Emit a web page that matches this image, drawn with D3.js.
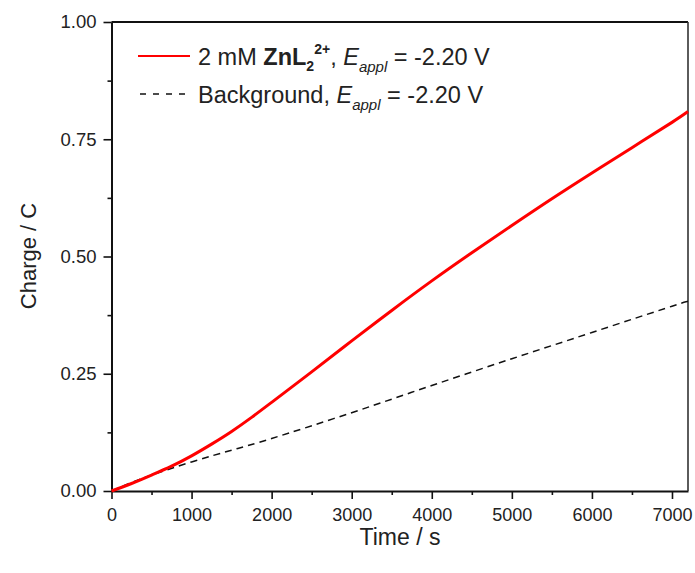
<!DOCTYPE html>
<meta charset="utf-8">
<style>
body { margin: 0; background: #fff; }
text { font-family: "Liberation Sans", Arial, sans-serif; fill: #222; }
.axis path, .axis line { stroke: #111; }
</style>
<svg width="695" height="573"></svg>
<script src="https://cdn.jsdelivr.net/npm/d3@7"></script>
<script>

// time (s) and charge (C)
var timeZn = [0, 250, 500, 750, 1000, 1250, 1500, 1750, 2000, 2500, 3000, 3500, 4000, 4500, 5000, 5500, 6000, 6500, 7000, 7200];
var chargeZn = [0, 0.016, 0.034, 0.053, 0.075, 0.100, 0.127, 0.157, 0.189, 0.254, 0.320, 0.385, 0.448, 0.508, 0.566, 0.623, 0.678, 0.732, 0.786, 0.809];

var timeBg = [0, 250, 500, 1000, 1500, 2000, 3000, 4000, 5000, 6000, 7000, 7200];
var chargeBg = [0, 0.018, 0.034, 0.062, 0.087, 0.112, 0.167, 0.225, 0.282, 0.338, 0.394, 0.404];

var xTicks = [0, 1000, 2000, 3000, 4000, 5000, 6000, 7000];
var yTicks = [0, 0.25, 0.5, 0.75, 1.0];

var svg = d3.select("svg"),
    mLeft = 111.5, mRight = 688, mTop = 22, mBottom = 491;

var x = d3.scaleLinear().domain([0, 7200]).range([mLeft, mRight]);
var y = d3.scaleLinear().domain([0, 1]).range([mBottom, mTop]);

// minor ticks
svg.append("g").attr("class", "axis")
    .attr("transform", "translate(0," + mBottom + ")")
    .call(d3.axisBottom(x).tickValues(d3.range(500, 7200, 1000)).tickSize(4).tickFormat(""))
    .call(function(g) { g.select(".domain").remove(); })
    .selectAll("line").attr("stroke-width", 1.6);
svg.append("g").attr("class", "axis")
    .attr("transform", "translate(" + mLeft + ",0)")
    .call(d3.axisLeft(y).tickValues([0.125, 0.375, 0.625, 0.875]).tickSize(4).tickFormat(""))
    .call(function(g) { g.select(".domain").remove(); })
    .selectAll("line").attr("stroke-width", 1.6);

// major ticks
var xAxis = svg.append("g").attr("class", "axis")
    .attr("transform", "translate(0," + mBottom + ")")
    .call(d3.axisBottom(x).tickValues(xTicks).tickSize(8).tickSizeOuter(0).tickPadding(9).tickFormat(d3.format("d")));
xAxis.selectAll("line").attr("stroke-width", 1.6);
xAxis.select(".domain").attr("stroke-width", 2);
xAxis.selectAll("text").style("font-size", "18px").attr("fill", "#222");

var yAxis = svg.append("g").attr("class", "axis")
    .attr("transform", "translate(" + mLeft + ",0)")
    .call(d3.axisLeft(y).tickValues(yTicks).tickSize(8).tickSizeOuter(0).tickPadding(7).tickFormat(d3.format(".2f")));
yAxis.selectAll("line").attr("stroke-width", 1.6);
yAxis.select(".domain").attr("stroke-width", 2);
yAxis.selectAll("text").style("font-size", "18.5px").attr("fill", "#222");

// frame top & right
svg.append("line").attr("x1", mLeft).attr("x2", mRight).attr("y1", mTop).attr("y2", mTop)
    .attr("stroke", "#111").attr("stroke-width", 2);
svg.append("line").attr("x1", mRight).attr("x2", mRight).attr("y1", mTop).attr("y2", mBottom)
    .attr("stroke", "#333").attr("stroke-width", 1.6);

var line = d3.line()
    .x(function(d) { return x(d[0]); })
    .y(function(d) { return y(d[1]); })
    .curve(d3.curveNatural);

svg.append("path")
    .datum(d3.zip(timeBg, chargeBg))
    .attr("d", line)
    .attr("fill", "none").attr("stroke", "#111").attr("stroke-width", 1.5)
    .attr("stroke-dasharray", "7,5");

svg.append("path")
    .datum(d3.zip(timeZn, chargeZn))
    .attr("d", line)
    .attr("fill", "none").attr("stroke", "#ff0000").attr("stroke-width", 3);

// axis titles
svg.append("text").attr("x", 400).attr("y", 545).attr("text-anchor", "middle")
    .style("font-size", "23px").text("Time / s");
svg.append("text").attr("transform", "translate(36,256) rotate(-90)").attr("text-anchor", "middle")
    .style("font-size", "22px").text("Charge / C");

// legend
var lg = svg.append("g").style("font-size", "23.5px");
lg.append("line").attr("x1", 138).attr("x2", 190).attr("y1", 56).attr("y2", 56)
    .attr("stroke", "#ff0000").attr("stroke-width", 2);
lg.append("line").attr("x1", 140).attr("x2", 191).attr("y1", 94).attr("y2", 94)
    .attr("stroke", "#111").attr("stroke-width", 1.5).attr("stroke-dasharray", "6,7");

var t1 = lg.append("text").attr("x", 198).attr("y", 65);
t1.append("tspan").text("2 mM ");
t1.append("tspan").style("font-weight", "bold").text("ZnL");
t1.append("tspan").style("font-weight", "bold").style("font-size", "14px").attr("dy", 6).text("2");
t1.append("tspan").style("font-weight", "bold").style("font-size", "14px").attr("dy", -17).text("2+");
t1.append("tspan").attr("dy", 11).text(", ");
t1.append("tspan").style("font-style", "italic").text("E");
t1.append("tspan").style("font-style", "italic").style("font-size", "15px").attr("dy", 7).text("appl");
t1.append("tspan").attr("dy", -7).text(" = -2.20 V");

var t2 = lg.append("text").attr("x", 198).attr("y", 103);
t2.append("tspan").text("Background, ");
t2.append("tspan").style("font-style", "italic").text("E");
t2.append("tspan").style("font-style", "italic").style("font-size", "15px").attr("dy", 7).text("appl");
t2.append("tspan").attr("dy", -7).text(" = -2.20 V");

</script>
